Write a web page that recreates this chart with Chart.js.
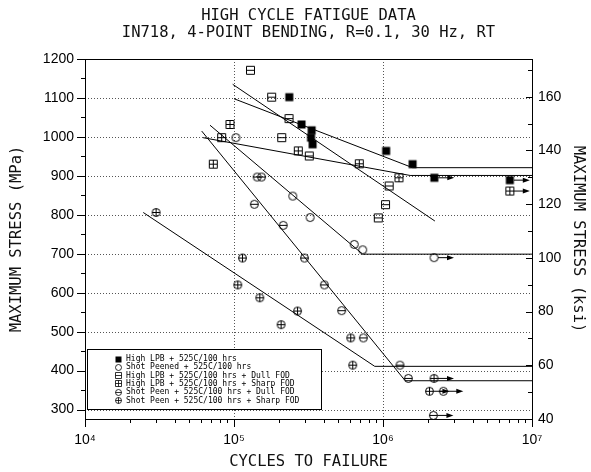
<!DOCTYPE html>
<html>
<head>
<meta charset="utf-8">
<script src="https://cdn.jsdelivr.net/npm/chart.js@4.4.0/dist/chart.umd.min.js"></script>
<style>
html, body { margin: 0; padding: 0; background: #fff; }
#wrap { width: 591px; height: 472px; }
</style>
</head>
<body>
<div id="wrap"><canvas id="fatigueChart" width="591" height="472"></canvas></div>
<script>
// 단위 변환
var MPA_PER_KSI = 6.89476;

// High LPB + 525C/100 hrs
var lpbCycles = [2.35e5, 2.84e5, 3.32e5, 3.29e5, 3.37e5, 1.05e6, 1.58e6, 2.21e6, 7.1e6];
var lpbStress = [1102, 1032, 1017, 998, 981, 964, 930, 895, 889];
var lpbRunout = [0, 0, 0, 0, 0, 0, 0, 1, 1];

// Shot Peened + 525C/100 hrs
var spCycles = [1.03e5, 2.48e5, 3.24e5, 6.41e5, 7.31e5, 2.2e6];
var spStress = [998, 848, 793, 724, 710, 690];
var spRunout = [0, 0, 0, 0, 0, 1];

// High LPB + 525C/100 hrs + Dull FOD
var lpbDullCycles = [1.29e5, 1.79e5, 2.34e5, 2.09e5, 3.2e5, 1.10e6, 1.04e6, 9.3e5];
var lpbDullStress = [1171, 1102, 1047, 998, 951, 874, 826, 792];
var lpbDullRunout = [0, 0, 0, 0, 0, 0, 0, 0];

// High LPB + 525C/100 hrs + Sharp FOD
var lpbSharpCycles = [9.4e4, 8.26e4, 7.26e4, 2.7e5, 6.93e5, 1.28e6, 7.1e6];
var lpbSharpStress = [1032, 998, 930, 964, 931, 895, 861];
var lpbSharpRunout = [0, 0, 0, 0, 0, 0, 1];

// Shot Peen + 525C/100 hrs + Dull FOD
var spDullCycles = [1.43e5, 1.53e5, 1.37e5, 2.14e5, 2.97e5, 4.04e5, 5.28e5, 7.38e5, 1.3e6, 1.48e6, 2.54e6, 2.18e6];
var spDullStress = [897, 897, 827, 773, 689, 620, 554, 484, 414, 380, 347, 285];
var spDullRunout = [0, 0, 0, 0, 0, 0, 0, 0, 0, 0, 1, 1];

// Shot Peen + 525C/100 hrs + Sharp FOD
var spSharpCycles = [3.0e4, 1.14e5, 1.06e5, 1.49e5, 2.67e5, 2.07e5, 6.07e5, 6.26e5, 2.2e6, 2.05e6];
var spSharpStress = [806, 689, 620, 587, 553, 518, 484, 414, 380, 347];
var spSharpRunout = [0, 0, 0, 0, 0, 0, 0, 0, 1, 1];

// 추세선 (fit lines)
var fitLpbCycles = [1.0e5, 1.58e6, 1e7];
var fitLpbStress = [1098, 921, 921];
var fitLpbDullCycles = [9.8e4, 2.23e6];
var fitLpbDullStress = [1135, 784];
var fitLpbSharpCycles = [6.2e4, 1.52e6, 1e7];
var fitLpbSharpStress = [998, 901, 901];
var fitSpCycles = [6.9e4, 7.3e5, 1e7];
var fitSpStress = [1030, 699, 699];
var fitSpDullCycles = [6.07e4, 1.41e6, 1e7];
var fitSpDullStress = [1015, 374, 374];
var fitSpSharpCycles = [2.46e4, 8.8e5, 1e7];
var fitSpSharpStress = [806, 411, 411];

// 축 눈금
var cycleLabels = [1e4, 1e5, 1e6, 1e7];
var cycleGrid = [1e5, 1e6];
var stressTicks = [300, 400, 500, 600, 700, 800, 900, 1000, 1100, 1200];
var ksiTicks = [40, 60, 80, 100, 120, 140, 160];

var titleLines = ['HIGH CYCLE FATIGUE DATA', 'IN718, 4-POINT BENDING, R=0.1, 30 Hz, RT'];

var MONO = "'DejaVu Sans Mono', monospace";
var SANS = "'Liberation Sans', Arial, sans-serif";

// 마커 생성
function makeMarker(kind, size, lw) {
    var c = document.createElement('canvas');
    c.width = size + 3;
    c.height = size + 3;
    var g = c.getContext('2d');
    var m = c.width / 2, h = size / 2;
    g.strokeStyle = '#000';
    g.fillStyle = '#000';
    g.lineWidth = lw;
    if (kind === 'filled') {
        g.fillRect(m - h, m - h, size, size);
        return c;
    }
    g.beginPath();
    if (kind.indexOf('circle') === 0) {
        g.arc(m, m, h, 0, Math.PI * 2);
    } else {
        g.rect(m - h, m - h, size, size);
    }
    g.stroke();
    if (kind !== 'circle') {
        g.beginPath();
        g.moveTo(m - h, m);
        g.lineTo(m + h, m);
        g.stroke();
    }
    if (kind === 'squareSharp' || kind === 'circleSharp') {
        g.beginPath();
        g.moveTo(m, m - h);
        g.lineTo(m, m + h);
        g.stroke();
    }
    return c;
}

var series = [
    { label: 'High LPB + 525C/100 hrs', kind: 'filled', n: lpbCycles, s: lpbStress, run: lpbRunout },
    { label: 'Shot Peened + 525C/100 hrs', kind: 'circle', n: spCycles, s: spStress, run: spRunout },
    { label: 'High LPB + 525C/100 hrs + Dull FOD', kind: 'squareDull', n: lpbDullCycles, s: lpbDullStress, run: lpbDullRunout },
    { label: 'High LPB + 525C/100 hrs + Sharp FOD', kind: 'squareSharp', n: lpbSharpCycles, s: lpbSharpStress, run: lpbSharpRunout },
    { label: 'Shot Peen + 525C/100 hrs + Dull FOD', kind: 'circleDull', n: spDullCycles, s: spDullStress, run: spDullRunout },
    { label: 'Shot Peen + 525C/100 hrs + Sharp FOD', kind: 'circleSharp', n: spSharpCycles, s: spSharpStress, run: spSharpRunout }
];

var fits = [
    [fitLpbCycles, fitLpbStress],
    [fitLpbDullCycles, fitLpbDullStress],
    [fitLpbSharpCycles, fitLpbSharpStress],
    [fitSpCycles, fitSpStress],
    [fitSpDullCycles, fitSpDullStress],
    [fitSpSharpCycles, fitSpSharpStress]
];

function toPoints(xs, ys) {
    return xs.map(function (v, i) { return { x: v, y: ys[i] }; });
}

var datasets = [];
fits.forEach(function (f) {
    datasets.push({
        type: 'line',
        data: toPoints(f[0], f[1]),
        borderColor: '#000',
        borderWidth: 1,
        pointRadius: 0,
        fill: false,
        tension: 0
    });
});
series.forEach(function (sr) {
    sr.marker = makeMarker(sr.kind, 8, 1);
    sr.legendMarker = makeMarker(sr.kind, 6, 0.8);
    datasets.push({
        label: sr.label,
        data: toPoints(sr.n, sr.s),
        pointStyle: sr.marker,
        pointRadius: 4,
        showLine: false
    });
});

var SUP = { '4': '\u2074', '5': '\u2075', '6': '\u2076', '7': '\u2077' };

var decorPlugin = {
    id: 'decor',
    beforeDatasetsDraw: function (chart) {
        var ctx = chart.ctx, a = chart.chartArea, xs = chart.scales.x, ys = chart.scales.y;
        ctx.save();
        ctx.strokeStyle = '#555';
        ctx.lineWidth = 1;
        ctx.setLineDash([1, 2]);
        stressTicks.forEach(function (v) {
            var py = Math.round(ys.getPixelForValue(v)) + 0.5;
            ctx.beginPath(); ctx.moveTo(a.left, py); ctx.lineTo(a.right, py); ctx.stroke();
        });
        cycleGrid.forEach(function (v) {
            var px = Math.round(xs.getPixelForValue(v)) + 0.5;
            ctx.beginPath(); ctx.moveTo(px, a.top); ctx.lineTo(px, a.bottom); ctx.stroke();
        });
        ctx.restore();
    },
    afterDatasetsDraw: function (chart) {
        // runout 화살표
        var ctx = chart.ctx, xs = chart.scales.x, ys = chart.scales.y;
        ctx.save();
        ctx.strokeStyle = '#000';
        ctx.fillStyle = '#000';
        ctx.lineWidth = 1;
        series.forEach(function (sr) {
            sr.run.forEach(function (r, i) {
                if (!r) return;
                var px = xs.getPixelForValue(sr.n[i]), py = ys.getPixelForValue(sr.s[i]);
                ctx.beginPath(); ctx.moveTo(px + 4, py); ctx.lineTo(px + 15, py); ctx.stroke();
                ctx.beginPath(); ctx.moveTo(px + 20, py); ctx.lineTo(px + 13, py - 2.5); ctx.lineTo(px + 13, py + 2.5); ctx.closePath(); ctx.fill();
            });
        });
        ctx.restore();
    },
    afterDraw: function (chart) {
        var ctx = chart.ctx, a = chart.chartArea;
        var xs = chart.scales.x, ys = chart.scales.y, y2 = chart.scales.y2;
        ctx.save();
        ctx.strokeStyle = '#000';
        ctx.lineWidth = 1;
        // 테두리
        ctx.strokeRect(Math.round(a.left) + 0.5, Math.round(a.top) + 0.5, Math.round(a.right - a.left), Math.round(a.bottom - a.top));
        ctx.beginPath();
        var v, p, len, d, m;
        // 왼쪽 눈금
        for (v = 300; v <= 1200; v += 50) {
            p = Math.round(ys.getPixelForValue(v)) + 0.5;
            len = v % 100 === 0 ? 8 : 4;
            ctx.moveTo(a.left - len, p); ctx.lineTo(a.left, p);
        }
        // 아래 눈금
        for (d = 1e4; d < 1e7; d *= 10) {
            for (m = 1; m <= 9; m++) {
                p = Math.round(xs.getPixelForValue(m * d)) + 0.5;
                len = m === 1 ? 8 : 4;
                ctx.moveTo(p, a.bottom); ctx.lineTo(p, a.bottom + len);
            }
        }
        p = Math.round(xs.getPixelForValue(1e7)) + 0.5;
        ctx.moveTo(p, a.bottom); ctx.lineTo(p, a.bottom + 8);
        // 오른쪽 눈금 (안쪽)
        for (v = 40; v <= 170; v += 10) {
            p = Math.round(y2.getPixelForValue(v)) + 0.5;
            len = v % 20 === 0 ? 6 : 4;
            ctx.moveTo(a.right - len, p); ctx.lineTo(a.right, p);
        }
        ctx.stroke();

        // 범례
        var bx = a.left + 2, by = a.bottom - 70, bw = 234, bh = 60;
        ctx.fillStyle = '#fff';
        ctx.fillRect(bx, by, bw, bh);
        ctx.strokeRect(Math.round(bx) + 0.5, Math.round(by) + 0.5, bw, bh);
        ctx.fillStyle = '#000';
        ctx.font = '8px ' + MONO;
        ctx.textBaseline = 'middle';
        series.forEach(function (sr, i) {
            var ry = by + 10 + i * 8.3;
            ctx.drawImage(sr.legendMarker, Math.round(bx + 31 - sr.legendMarker.width / 2), Math.round(ry - sr.legendMarker.height / 2));
            ctx.fillText(sr.label, bx + 39, ry);
        });
        ctx.restore();
    }
};

var ctx = document.getElementById('fatigueChart').getContext('2d');
var chart = new Chart(ctx, {
    type: 'scatter',
    data: { datasets: datasets },
    plugins: [decorPlugin],
    options: {
        responsive: false,
        animation: false,
        devicePixelRatio: 1,
        layout: { padding: 0 },
        plugins: {
            legend: { display: false },
            tooltip: { enabled: false },
            title: {
                display: true,
                fullSize: false,
                text: titleLines,
                color: '#111',
                font: { family: MONO, size: 15.5, weight: 'normal', lineHeight: '17px' },
                padding: { top: 7, bottom: 18 }
            }
        },
        scales: {
            x: {
                type: 'logarithmic',
                position: 'bottom',
                min: 1e4,
                max: 1e7,
                afterBuildTicks: function (scale) {
                    scale.ticks = cycleLabels.map(function (v) { return { value: v }; });
                },
                afterFit: function (scale) { scale.height = 53; },
                grid: { display: false, drawTicks: false },
                border: { display: false },
                ticks: {
                    autoSkip: false,
                    maxRotation: 0,
                    padding: 13,
                    color: '#000',
                    font: { family: SANS, size: 14 },
                    callback: function (value) {
                        var e = Math.round(Math.log10(value));
                        return '10' + SUP[String(e)];
                    }
                },
                title: {
                    display: true,
                    text: 'CYCLES TO FAILURE',
                    color: '#111',
                    font: { family: MONO, size: 15.5 },
                    padding: { top: 0, bottom: 1 }
                }
            },
            y: {
                type: 'linear',
                position: 'left',
                min: 40 * MPA_PER_KSI,
                max: 1200,
                afterBuildTicks: function (scale) {
                    scale.ticks = stressTicks.map(function (v) { return { value: v }; });
                },
                afterFit: function (scale) { scale.width = 85; },
                grid: { display: false, drawTicks: false },
                border: { display: false },
                ticks: {
                    padding: 11,
                    color: '#000',
                    font: { family: SANS, size: 14 },
                    callback: function (value) { return String(value); }
                },
                title: {
                    display: true,
                    text: 'MAXIMUM STRESS (MPa)',
                    color: '#111',
                    font: { family: MONO, size: 15.5 },
                    padding: { top: 8, bottom: 0 }
                }
            },
            y2: {
                type: 'linear',
                position: 'right',
                min: 40,
                max: 1200 / MPA_PER_KSI,
                afterBuildTicks: function (scale) {
                    scale.ticks = ksiTicks.map(function (v) { return { value: v }; });
                },
                afterFit: function (scale) { scale.width = 59; },
                grid: { display: false, drawTicks: false },
                border: { display: false },
                ticks: {
                    padding: 6,
                    color: '#000',
                    font: { family: SANS, size: 14 },
                    callback: function (value) { return String(value); }
                },
                title: {
                    display: true,
                    text: 'MAXIMUM STRESS (ksi)',
                    color: '#111',
                    font: { family: MONO, size: 15.5 },
                    padding: { top: 4, bottom: 0 }
                }
            }
        }
    }
});
</script>
</body>
</html>
